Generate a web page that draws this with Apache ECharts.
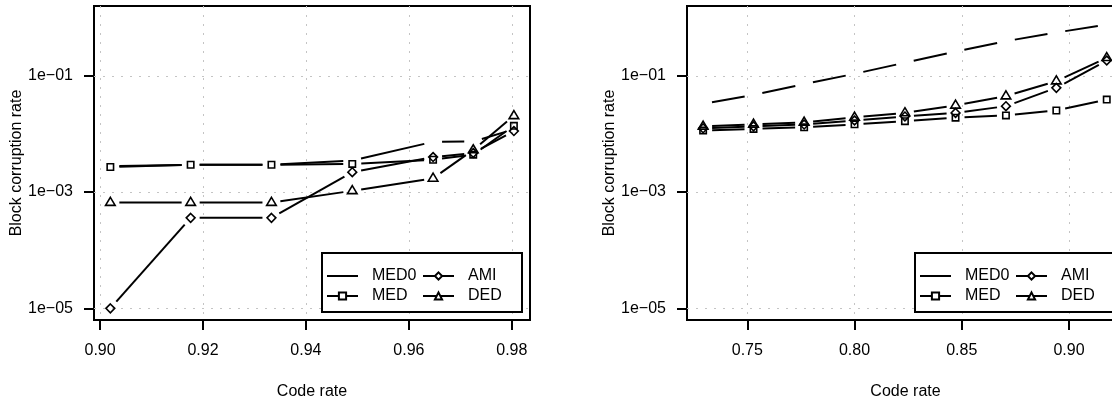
<!DOCTYPE html>
<html>
<head>
<meta charset="utf-8">
<script src="https://cdn.jsdelivr.net/npm/echarts@6/dist/echarts.min.js"></script>
<style>
  html, body { margin: 0; padding: 0; background: #fff; }
  #chart { width: 1112px; height: 401px; }
</style>
</head>
<body>
<div id="chart"></div>
<script>
// Block corruption rate vs. code rate for four decoders, two code families.
const seriesNames = ['MED0', 'MED', 'AMI', 'DED'];

// Left panel: high-rate codes
const rateA = [0.902, 0.9176, 0.9333, 0.949, 0.9647, 0.9725, 0.9804];
const med0A = [2.8e-3, 2.95e-3, 2.95e-3, 3.5e-3, 7.3e-3, 7.4e-3, 1.2e-2];
const medA  = [2.7e-3, 2.95e-3, 2.95e-3, 3.05e-3, 3.6e-3, 4.4e-3, 1.38e-2];
const amiA  = [1e-5, 3.6e-4, 3.6e-4, 2.2e-3, 4.0e-3, 4.7e-3, 1.12e-2];
const dedA  = [6.6e-4, 6.6e-4, 6.6e-4, 1.05e-3, 1.72e-3, 5.3e-3, 2.05e-2];

// Right panel: lower-rate codes
const rateB = [0.7294, 0.7529, 0.7765, 0.8, 0.8235, 0.8471, 0.8706, 0.8941, 0.9176];
const med0B = [3.3e-2, 4.7e-2, 7.2e-2, 0.108, 0.168, 0.262, 0.394, 0.555, 0.755];
const medB  = [1.15e-2, 1.22e-2, 1.3e-2, 1.46e-2, 1.66e-2, 1.9e-2, 2.08e-2, 2.53e-2, 3.9e-2];
const amiB  = [1.25e-2, 1.35e-2, 1.45e-2, 1.7e-2, 2.0e-2, 2.3e-2, 3.0e-2, 6.2e-2, 0.183];
const dedB  = [1.35e-2, 1.46e-2, 1.58e-2, 1.93e-2, 2.3e-2, 3.1e-2, 4.47e-2, 8.1e-2, 0.204];

// Tick labels
const xTicksA = [0.90, 0.92, 0.94, 0.96, 0.98];
const xTicksB = [0.75, 0.80, 0.85, 0.90];
const yTickExp = [-5, -3, -1];

const FONT = "'Liberation Sans', Arial, Helvetica, sans-serif";
const INK = '#000';
const GAP = 9;          // blank space left around each point on the connecting lines
const LINE_W = 2;
const MARK_W = 1.6;

const markerOf = { MED0: null, MED: 'square', AMI: 'diamond', DED: 'triangle' };
const legendSymbol = { MED0: 'emptyCircle', MED: 'emptyRect', AMI: 'emptyDiamond', DED: 'emptyTriangle' };

function markerShape(kind, cx, cy) {
  const st = { stroke: INK, fill: 'none', lineWidth: MARK_W };
  if (kind === 'square') {
    return { type: 'rect', shape: { x: cx - 3.2, y: cy - 3.2, width: 6.4, height: 6.4 }, style: st };
  }
  if (kind === 'diamond') {
    const r = 4.4;
    return { type: 'polygon', shape: { points: [[cx, cy - r], [cx + r, cy], [cx, cy + r], [cx - r, cy]] }, style: st };
  }
  if (kind === 'triangle') {
    return { type: 'polygon', shape: { points: [[cx, cy - 5.2], [cx + 4.8, cy + 2.8], [cx - 4.8, cy + 2.8]] }, style: st };
  }
  return null;
}

// Points joined by line pieces that stop short of each point (R's type = "b").
function makeRenderer(xs, ys, kind) {
  const ly = ys.map(v => Math.log10(v));
  return function (params, api) {
    const i = params.dataIndex;
    const p = api.coord([api.value(0), api.value(1)]);
    const children = [];
    if (i < xs.length - 1) {
      const q = api.coord([xs[i + 1], ly[i + 1]]);
      const dx = q[0] - p[0], dy = q[1] - p[1];
      const len = Math.hypot(dx, dy);
      if (len > 2 * GAP) {
        const ux = dx / len, uy = dy / len;
        children.push({
          type: 'line',
          shape: { x1: p[0] + ux * GAP, y1: p[1] + uy * GAP, x2: q[0] - ux * GAP, y2: q[1] - uy * GAP },
          style: { stroke: INK, lineWidth: LINE_W, lineCap: 'butt' }
        });
      }
    }
    const m = markerShape(kind, p[0], p[1]);
    if (m) children.push(m);
    return { type: 'group', children: children };
  };
}

function customSeries(name, xs, ys, idx) {
  const kind = markerOf[name];
  return {
    type: 'custom',
    name: name,
    xAxisIndex: idx,
    yAxisIndex: idx,
    renderItem: makeRenderer(xs, ys, kind),
    data: xs.map((x, i) => [x, Math.log10(ys[i])]),
    silent: true,
    z: 5
  };
}

function expLabel(v) {
  const e = Math.round(v);
  const a = Math.abs(e);
  return '1e' + (e < 0 ? '\u2212' : '+') + (a < 10 ? '0' : '') + a;
}

function xAxisCfg(idx, lo, hi, ticks) {
  return {
    type: 'value',
    gridIndex: idx,
    position: 'bottom',
    min: lo,
    max: hi,
    axisLine: { show: false, onZero: false },
    axisTick: { show: true, inside: false, length: 10, customValues: ticks, lineStyle: { color: INK, width: 2 } },
    axisLabel: { customValues: ticks, formatter: v => v.toFixed(2), color: INK, fontSize: 16, fontFamily: FONT, margin: 23 },
    splitLine: { show: true, lineStyle: { color: '#c4c4c4', width: 1, type: [2, 7] } },
    name: 'Code rate',
    nameLocation: 'middle',
    nameGap: 64,
    nameTextStyle: { color: INK, fontSize: 16, fontFamily: FONT }
  };
}

function yAxisCfg(idx) {
  return {
    type: 'value',
    gridIndex: idx,
    position: 'left',
    min: -5.2,
    max: 0.2,
    axisLine: { show: false, onZero: false },
    axisTick: { show: true, inside: false, length: 10, customValues: yTickExp, lineStyle: { color: INK, width: 2 } },
    axisLabel: { customValues: yTickExp, formatter: expLabel, color: INK, fontSize: 16, fontFamily: FONT, margin: 21 },
    splitLine: { show: true, lineStyle: { color: '#c4c4c4', width: 1, type: [2, 7] } },
    name: 'Block corruption rate',
    nameLocation: 'middle',
    nameGap: 63,
    nameTextStyle: { color: INK, fontSize: 16, fontFamily: FONT }
  };
}

const legendOrder = [seriesNames[0], seriesNames[2], '', seriesNames[1], seriesNames[3]];

function legendCfg(left) {
  return {
    left: left,
    top: 253,
    width: 190,
    orient: 'horizontal',
    data: legendOrder,
    selectedMode: false,
    itemWidth: 31,
    itemHeight: 9,
    itemGap: 4,
    padding: [15, 8, 8, 4],
    backgroundColor: '#fff',
    borderColor: INK,
    borderWidth: 2,
    borderRadius: 0,
    textStyle: { color: INK, fontSize: 16, fontFamily: FONT, lineHeight: 16, width: 46, padding: [0, 0, 0, 9] }
  };
}

// Series that only supply the legend icons (line with hollow marker)
const legendProxies = seriesNames.map(n => ({
  type: 'line',
  name: n,
  xAxisIndex: 0,
  yAxisIndex: 0,
  data: [],
  symbol: legendSymbol[n],
  symbolSize: 8,
  lineStyle: { color: INK, width: 1.6 },
  itemStyle: markerOf[n]
    ? { color: INK, borderColor: INK, borderWidth: 1.4 }
    : { color: INK, opacity: 0 }
}));

const gridBase = { top: 6, height: 314, show: true, borderColor: INK, borderWidth: 2, backgroundColor: 'transparent', containLabel: false, outerBoundsMode: 'none' };

const option = {
  animation: false,
  backgroundColor: '#fff',
  textStyle: { fontFamily: FONT },
  grid: [
    Object.assign({ left: 94, width: 436 }, gridBase),
    Object.assign({ left: 687, width: 437 }, gridBase)
  ],
  xAxis: [
    xAxisCfg(0, 0.898824, 0.983529, xTicksA),
    xAxisCfg(1, 0.721882, 0.925647, xTicksB)
  ],
  yAxis: [yAxisCfg(0), yAxisCfg(1)],
  legend: [legendCfg(322), legendCfg(915)],
  series: legendProxies.concat([
    customSeries('MED0', rateA, med0A, 0),
    customSeries('MED', rateA, medA, 0),
    customSeries('AMI', rateA, amiA, 0),
    customSeries('DED', rateA, dedA, 0),
    customSeries('MED0', rateB, med0B, 1),
    customSeries('MED', rateB, medB, 1),
    customSeries('AMI', rateB, amiB, 1),
    customSeries('DED', rateB, dedB, 1)
  ])
};

const chart = echarts.init(document.getElementById('chart'), null, { renderer: 'canvas' });
chart.setOption(option);
</script>
</body>
</html>
